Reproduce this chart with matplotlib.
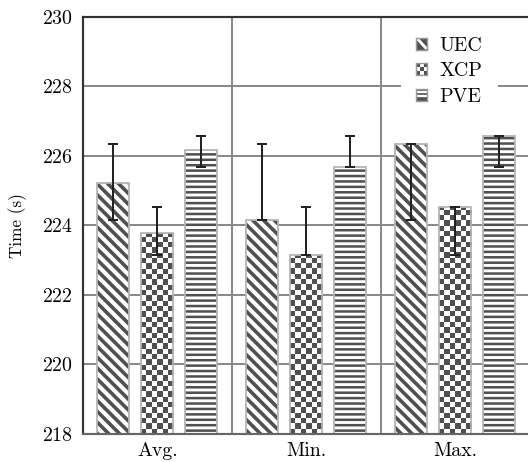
import numpy as np
import matplotlib
matplotlib.use("Agg")
import matplotlib.pyplot as plt
from matplotlib.patches import Patch, Rectangle
from matplotlib.lines import Line2D
from matplotlib.legend_handler import HandlerBase

plt.rcParams['font.family'] = 'cmr10'
plt.rcParams['axes.formatter.use_mathtext'] = True

groups = ["Avg.", "Min.", "Max."]
methods = ["UEC", "XCP", "PVE"]
avg_vals = [225.22, 223.77, 226.16]
min_vals = [224.14, 223.15, 225.68]
max_vals = [226.33, 224.53, 226.56]

hatches = {"UEC": "\\\\\\\\", "XCP": None, "PVE": "----"}
hatch_lw = {"UEC": 2.0, "XCP": 1.5, "PVE": 1.4}
dark = "#505050"
ymin, ymax = 218, 230

DPI = 130
fig = plt.figure(figsize=(528 / DPI, 462 / DPI), dpi=DPI)
ax = fig.add_axes([0.1566, 0.0606, 0.8466, 0.9033])

x = np.arange(len(groups))
offset = 0.295
width = 0.215


class HandlerIcon(HandlerBase):
    # small legend swatches drawn by hand, one style per method
    def __init__(self, kind):
        super().__init__()
        self.kind = kind

    def create_artists(self, legend, orig_handle, xdescent, ydescent,
                       width, height, fontsize, trans):
        x0, y0 = -xdescent, -ydescent
        arts = []
        if self.kind == "checker":
            n = 3
            cw, ch = width / n, height / n
            for i in range(n):
                for j in range(n):
                    c = dark if (i + j) % 2 == 0 else "white"
                    arts.append(Rectangle((x0 + i * cw, y0 + j * ch), cw, ch,
                                          facecolor=c, edgecolor="none",
                                          transform=trans))
        elif self.kind == "diag":
            arts.append(Rectangle((x0, y0), width, height, facecolor=dark,
                                  edgecolor="none", transform=trans))
            arts.append(Line2D([x0 + 0.15 * width, x0 + 0.85 * width],
                               [y0 + 0.85 * height, y0 + 0.15 * height],
                               color="white", lw=1.6, transform=trans))
        else:
            arts.append(Rectangle((x0, y0), width, height, facecolor=dark,
                                  edgecolor="none", transform=trans))
            for f in (0.35, 0.68):
                arts.append(Line2D([x0, x0 + width],
                                   [y0 + f * height, y0 + f * height],
                                   color="white", lw=1.3, transform=trans))
        arts.append(Rectangle((x0, y0), width, height, fill=False,
                              edgecolor="#9a9a9a", lw=0.8, transform=trans))
        return arts


handles = []
for k, m in enumerate(methods):
    vals = [avg_vals[k], min_vals[k], max_vals[k]]
    xs = x + (k - 1) * offset
    heights = [v - ymin for v in vals]
    if hatches[m]:
        with plt.rc_context({'hatch.linewidth': hatch_lw[m]}):
            bars = ax.bar(xs, heights, width, bottom=ymin, facecolor="white",
                          edgecolor=dark, linewidth=0, hatch=hatches[m], zorder=2)
        if hasattr(bars[0], "set_hatch_linewidth"):
            for b in bars:
                b.set_hatch_linewidth(hatch_lw[m])
    else:
        bars = ax.bar(xs, heights, width, bottom=ymin, facecolor="white",
                      edgecolor="none", linewidth=0, zorder=2)
        # checkerboard fill clipped to each bar
        cell_y = 0.153
        for b in bars:
            rows = int(np.ceil(b.get_height() / cell_y))
            ii, jj = np.indices((rows, 6))
            pat = ((ii + jj) % 2).astype(float)
            im = ax.imshow(pat, cmap="gray", vmin=-0.45, vmax=1,
                           extent=(b.get_x(), b.get_x() + b.get_width(),
                                   ymin, ymin + rows * cell_y),
                           origin="lower", aspect="auto",
                           interpolation="nearest", zorder=2.1)
            im.set_clip_path(b)
    handles.append(Patch(label=m))
    ax.bar(xs, heights, width, bottom=ymin, fill=False,
           edgecolor="#b5b5b5", linewidth=1.0, zorder=2.2)
    lower = [v - min_vals[k] for v in vals]
    upper = [max_vals[k] - v for v in vals]
    ax.errorbar(xs, vals, yerr=[lower, upper], fmt="none", ecolor="#222222",
                elinewidth=1.1, capsize=3, capthick=1.1, zorder=3)

ax.set_xlim(-0.5, 2.5)
ax.set_ylim(ymin, ymax)
ax.set_yticks(np.arange(218, 231, 2))
ax.set_xticks(x)
ax.set_xticklabels(groups)
ax.set_xticks([0.5, 1.5], minor=True)
ax.tick_params(axis="both", which="both", length=0, labelsize=11)
ax.tick_params(axis="y", pad=5.4)
ax.tick_params(axis="x", pad=4.5)
ax.grid(True, axis="y", which="major", color="#8a8a8a", linewidth=1.1)
ax.grid(True, axis="x", which="minor", color="#8a8a8a", linewidth=1.1)
ax.set_axisbelow(True)

for s in ["left", "top"]:
    ax.spines[s].set_color("#333333")
    ax.spines[s].set_linewidth(1.2)
ax.spines["bottom"].set_color("#666666")
ax.spines["bottom"].set_linewidth(1.2)
ax.spines["right"].set_visible(False)

ax.set_ylabel("Time (s)", fontsize=9.5, labelpad=8)

kinds = ["diag", "checker", "stripes"]
leg = ax.legend(handles=handles, loc="upper left",
                bbox_to_anchor=(0.711, 0.99), borderaxespad=0,
                handler_map={h: HandlerIcon(kd) for h, kd in zip(handles, kinds)},
                fontsize=11, frameon=True, framealpha=1, edgecolor="none",
                fancybox=False, handlelength=0.55, handleheight=0.55,
                handletextpad=0.6, labelspacing=0.38, borderpad=0.8)

fig.savefig("out.png", dpi=DPI)
